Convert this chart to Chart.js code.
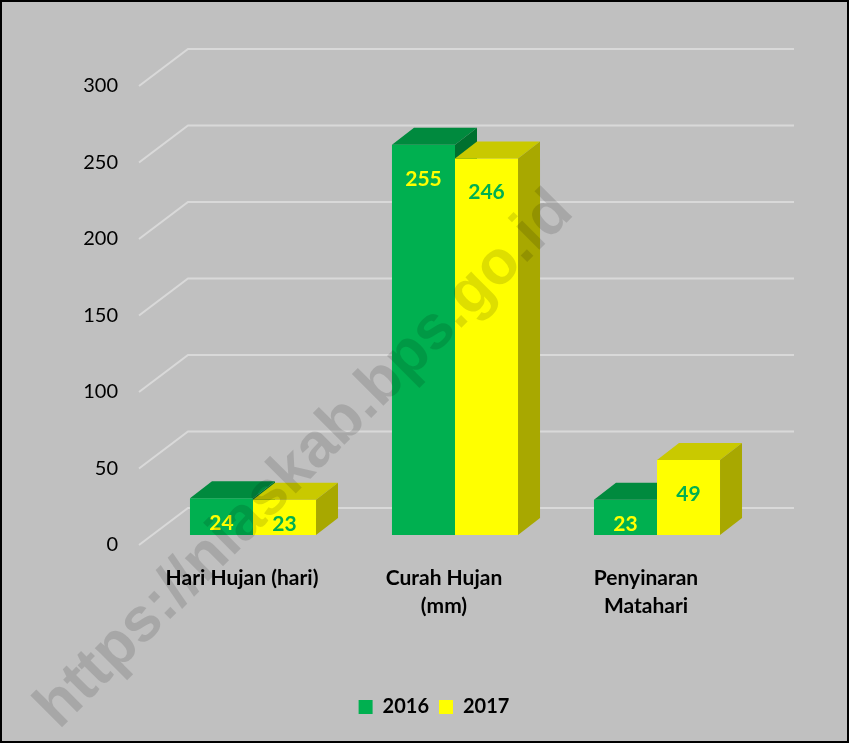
<!DOCTYPE html>
<html>
<head>
<meta charset="utf-8">
<script src="https://cdn.jsdelivr.net/npm/chart.js@4.4.1/dist/chart.umd.min.js"></script>
<style>
  html, body { margin: 0; padding: 0; background: #fff; }
  #frame {
    width: 849px;
    height: 743px;
    box-sizing: border-box;
    border: 2px solid #000;
    background: #c0c0c0;
  }
  #chart { display: block; }
</style>
</head>
<body>
<div id="frame"><canvas id="chart" width="845" height="739"></canvas></div>
<script>
const categories = [['Hari Hujan (hari)'], ['Curah Hujan', '(mm)'], ['Penyinaran', 'Matahari']];
const seriesNames = ['2016', '2017'];
const values2016 = [24, 255, 23];
const values2017 = [23, 246, 49];
const yTicks = [0, 50, 100, 150, 200, 250, 300];

const FONT = 'Lato, "Open Sans", sans-serif';

// bar front / top / side colours per series
const faceColors = [
  { front: '#00b050', top: '#008a3e', side: '#00702f', label: '#ffff00' },
  { front: '#ffff00', top: '#c9c900', side: '#a8a800', label: '#00b050' },
];

// oblique depth of the bars and of the floor/back wall
const barDepth = { x: 22, y: -17 };
const wallFront = { x: -13, y: 10 };
const wallBack = { x: 36, y: -27 };

function polygon(ctx, points, color) {
  ctx.beginPath();
  ctx.moveTo(points[0][0], points[0][1]);
  points.slice(1).forEach((p) => ctx.lineTo(p[0], p[1]));
  ctx.closePath();
  ctx.fillStyle = color;
  ctx.fill();
}

const threeDPlugin = {
  id: 'threeD',
  beforeDatasetDraw() {
    // bars are drawn below, as boxes, in left-to-right order
    return false;
  },
  beforeDatasetsDraw(chart) {
    const { ctx, chartArea, scales } = chart;
    ctx.save();
    ctx.strokeStyle = '#d9d9d9';
    ctx.lineWidth = 2;
    yTicks.forEach((value) => {
      const y = scales.y.getPixelForValue(value);
      ctx.beginPath();
      ctx.moveTo(chartArea.left + wallFront.x, y + wallFront.y);
      ctx.lineTo(chartArea.left + wallBack.x, y + wallBack.y);
      ctx.lineTo(chartArea.right + wallBack.x, y + wallBack.y);
      ctx.stroke();
    });
    ctx.restore();
  },
  afterDatasetsDraw(chart) {
    const { ctx } = chart;
    ctx.save();
    categories.forEach((cat, j) => {
      chart.data.datasets.forEach((dataset, i) => {
        const colors = faceColors[i];
        const bar = chart.getDatasetMeta(i).data[j];
        const { x, y, base, width } = bar.getProps(['x', 'y', 'base', 'width'], true);
        const left = x - width / 2;
        const right = x + width / 2;
        polygon(ctx, [[left, y], [right, y], [right, base], [left, base]], colors.front);
        polygon(ctx, [
          [left, y], [left + barDepth.x, y + barDepth.y],
          [right + barDepth.x, y + barDepth.y], [right, y],
        ], colors.top);
        polygon(ctx, [
          [right, y], [right + barDepth.x, y + barDepth.y],
          [right + barDepth.x, base + barDepth.y], [right, base],
        ], colors.side);
      });
    });

    ctx.font = `bold 21px ${FONT}`;
    ctx.textAlign = 'center';
    ctx.textBaseline = 'middle';
    chart.data.datasets.forEach((dataset, i) => {
      ctx.fillStyle = faceColors[i].label;
      chart.getDatasetMeta(i).data.forEach((bar, j) => {
        const { x, y, base } = bar.getProps(['x', 'y', 'base'], true);
        const labelY = Math.min(y + 34, (y + base) / 2 + 7);
        ctx.fillText(String(dataset.data[j]), x, labelY);
      });
    });
    ctx.restore();
  },
  afterDraw(chart) {
    const { ctx } = chart;
    ctx.save();
    ctx.translate(303, 458);
    ctx.rotate(-45 * Math.PI / 180);
    ctx.font = 'bold 62px "Liberation Sans", Arial, sans-serif';
    ctx.fillStyle = 'rgba(0, 0, 0, 0.13)';
    ctx.textAlign = 'center';
    ctx.textBaseline = 'middle';
    ctx.fillText('https://niaskab.bps.go.id', 0, 0);
    ctx.restore();
  },
};

new Chart(document.getElementById('chart'), {
  type: 'bar',
  data: {
    labels: categories,
    datasets: [
      { label: seriesNames[0], data: values2016, backgroundColor: faceColors[0].front },
      { label: seriesNames[1], data: values2017, backgroundColor: faceColors[1].front },
    ],
  },
  options: {
    responsive: false,
    animation: false,
    devicePixelRatio: 1,
    layout: { padding: { top: 74, right: 0, bottom: 14, left: 19 } },
    datasets: {
      bar: { barPercentage: 1, categoryPercentage: 0.624, borderWidth: 0 },
    },
    plugins: {
      legend: {
        position: 'bottom',
        labels: {
          boxWidth: 14,
          boxHeight: 14,
          padding: 10,
          color: '#000',
          font: { family: FONT, size: 20, weight: 'bold' },
        },
      },
      tooltip: { enabled: false },
    },
    scales: {
      x: {
        grid: { display: false, drawTicks: false },
        border: { display: false },
        ticks: {
          color: '#000',
          font: { family: FONT, size: 21, weight: 'bold', lineHeight: 1.3 },
          padding: 30,
          labelOffset: -11,
          maxRotation: 0,
          autoSkip: false,
        },
        afterFit(scale) { scale.height = 152; },
      },
      y: {
        min: 0,
        max: 300,
        grid: { display: false, drawTicks: false },
        border: { display: false },
        ticks: {
          stepSize: 50,
          color: '#000',
          font: { family: FONT, size: 20 },
          padding: 34,
          labelOffset: 10,
        },
        afterFit(scale) { scale.width = 131; },
      },
      // empty right axis that only reserves the space right of the bars
      y2: {
        position: 'right',
        grid: { display: false, drawTicks: false },
        border: { display: false },
        ticks: { display: false },
        afterFit(scale) { scale.width = 89; },
      },
    },
  },
  plugins: [threeDPlugin],
});
</script>
</body>
</html>
